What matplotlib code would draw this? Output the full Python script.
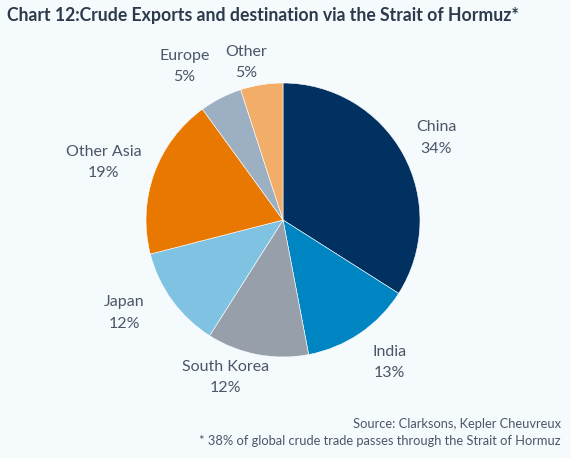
import matplotlib
matplotlib.use("Agg")
import matplotlib.pyplot as plt

# ── Data ──────────────────────────────────────────────────────────────────────
categories = ["China", "India", "South Korea", "Japan", "Other Asia", "Europe", "Other"]
shares     = [34, 13, 12, 12, 19, 5, 5]
colors     = ["#003160", "#0085C3", "#97A0AA", "#7FC2E2", "#E97800", "#9DB0C3", "#F2AE68"]

TITLE  = "Chart 12:Crude Exports and destination via the Strait of Hormuz*"
SOURCE = "Source: Clarksons, Kepler Cheuvreux"
NOTE   = "* 38% of global crude trade passes through the Strait of Hormuz"

# label centres, in pie radii (Excel "best fit" placement)
label_pos = [(1.12, 0.60), (0.78, -1.04), (-0.42, -1.15), (-1.16, -0.68),
             (-1.31, 0.42), (-0.72, 1.12), (-0.27, 1.15)]

BG       = "#F5FAFD"
TXT_GREY = "#4B5666"
TXT_DARK = "#2C3A4B"

plt.rcParams["font.family"] = ["Lato", "DejaVu Sans"]

W, H = 571, 458
fig = plt.figure(figsize=(W / 100, H / 100), dpi=100, facecolor=BG)

# pie axes: centre (283, 220) px from top-left, radius 137 px
cx, cy, r = 283, 220, 137
ax = fig.add_axes([(cx - r) / W, (H - cy - r) / H, 2 * r / W, 2 * r / H])
ax.set_facecolor(BG)

labels = [f"{c}\n{v}%" for c, v in zip(categories, shares)]
wedges, texts = ax.pie(
    shares, labels=labels, colors=colors, startangle=90, counterclock=False,
    radius=1,
    wedgeprops={"edgecolor": "white", "linewidth": 0.4},
    textprops={"fontsize": 11.5, "color": TXT_GREY, "multialignment": "center",
               "linespacing": 1.7},
)
for t, (lx, ly) in zip(texts, label_pos):
    t.set_position((lx, ly))
    t.set_ha("center")
    t.set_va("center")

ax.set_xlim(-1, 1)
ax.set_ylim(-1, 1)
ax.set_aspect("equal")
ax.axis("off")

fig.text(7 / W, 1 - 21 / H, TITLE, fontsize=12.7, fontweight="bold",
         color=TXT_DARK, ha="left", va="baseline")
fig.text(561 / W, 1 - 428 / H, SOURCE, fontsize=9.3, color=TXT_GREY,
         ha="right", va="baseline")
fig.text(561 / W, 1 - 445 / H, NOTE, fontsize=9.3, color=TXT_GREY,
         ha="right", va="baseline")

fig.savefig("out.png", dpi=100, facecolor=BG)
